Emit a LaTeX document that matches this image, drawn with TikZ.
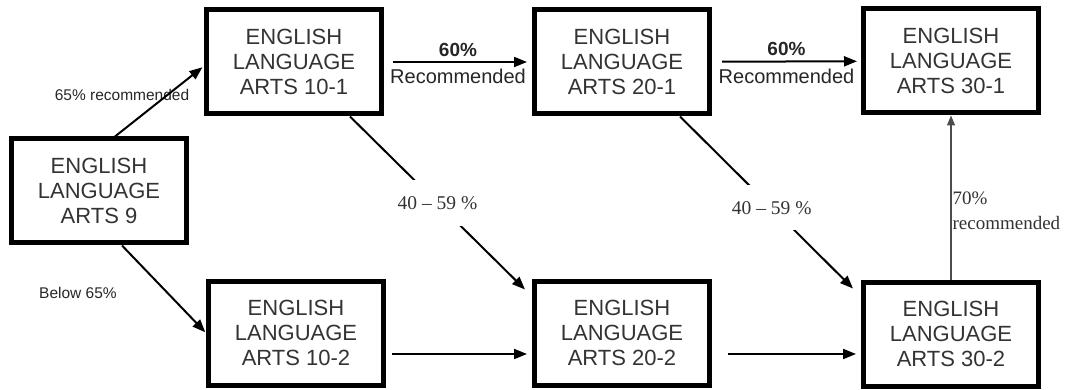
\documentclass[tikz,border=0pt]{standalone}
\usepackage{fontspec}
\setmainfont{Liberation Serif}
\setsansfont{Liberation Sans}
\usetikzlibrary{arrows.meta}

\begin{document}
\begin{tikzpicture}[x=1pt, y=-1pt, ->, >={Triangle[length=13pt,width=10pt]}, line width=2pt, shorten >=4pt]

        \tikzstyle{course}=[draw=black, line width=5pt, minimum width=175pt, minimum height=104pt, inner sep=0pt, align=center, text=black!80, font=\sffamily\fontsize{22}{25}\selectfont]
        \tikzstyle{pct}=[text=black!85, font=\sffamily\fontsize{15.5}{18}\selectfont]
        \tikzstyle{rec}=[text=black!85, font=\sffamily\fontsize{20}{22}\selectfont]
        \tikzstyle{band}=[fill=white, inner xsep=2pt, inner ysep=16pt, text=black!80, font=\fontsize{19.5}{22}\selectfont]

        \useasboundingbox (0,0) rectangle (1071,390);

        \node[course] (9)   at (99,191)  {ENGLISH\\LANGUAGE\\ARTS 9};
        \node[course] (101) at (294,62)  {ENGLISH\\LANGUAGE\\ARTS 10-1};
        \node[course] (201) at (622,62)  {ENGLISH\\LANGUAGE\\ARTS 20-1};
        \node[course] (301) at (951,61)  {ENGLISH\\LANGUAGE\\ARTS 30-1};
        \node[course] (102) at (296,333) {ENGLISH\\LANGUAGE\\ARTS 10-2};
        \node[course] (202) at (622,333) {ENGLISH\\LANGUAGE\\ARTS 20-2};
        \node[course] (302) at (951,334) {ENGLISH\\LANGUAGE\\ARTS 30-2};

        \node[pct] (l65)    at (122,95)  {65\% recommended};
        \node[pct] (lbelow) at (78,293)  {Below 65\%};

        \path
        ([xshift=16pt]9.north) edge [shorten >=2pt] ([yshift=-4pt]101.west)
        ([xshift=23pt]9.south) edge [shorten >=1pt] (102.west)

        (101) edge [shorten <=9pt, shorten >=5pt]
              node [rec, above=1pt] {\bfseries\fontsize{19}{22}\selectfont 60\%}
              node [rec, below=3pt] {Recommended} (201)
        (201) edge [shorten <=10pt, shorten >=4pt]
              node [rec, above=1pt] {\bfseries\fontsize{19}{22}\selectfont 60\%}
              node [rec, below=3pt] {Recommended} (301)

        ([xshift=56pt]101.south) edge [shorten >=0pt]
              node [band] {40 -- 59 \%} ([shift={(-7pt,-11pt)}]202.north west)
        ([xshift=58pt]201.south) edge [shorten >=0pt]
              node [band, pos=.53] {40 -- 59 \%} ([shift={(-8pt,-9pt)}]302.north west)

        ([yshift=-21pt]102.east) edge [shorten <=6pt, shorten >=5pt] ([yshift=-21pt]202.west)
        ([yshift=-21pt]202.east) edge [shorten <=16pt, shorten >=5pt] ([yshift=-20pt]302.west)

        (302) edge [line width=1.2pt, draw=black!70, shorten >=0pt, >={Triangle[length=10pt,width=8pt]}]
              node [pos=.42, right, inner sep=1pt, align=left, text=black!80, font=\fontsize{19}{25}\selectfont] {70\%\\recommended} (301)
    ;
    \end{tikzpicture}
\end{document}
